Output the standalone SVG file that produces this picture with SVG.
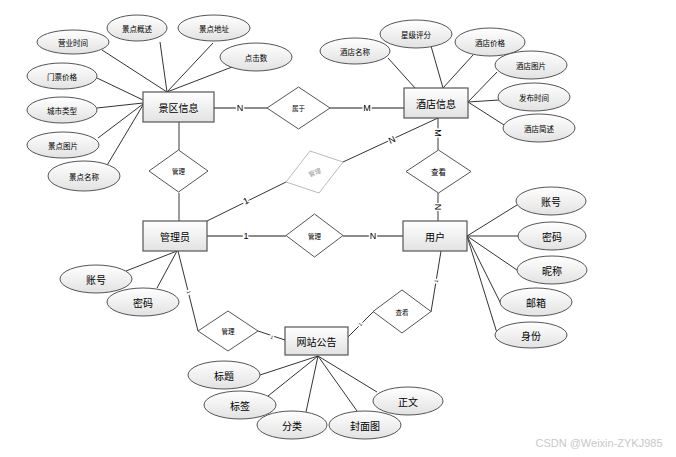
<svg xmlns="http://www.w3.org/2000/svg" width="676" height="457" viewBox="0 0 676 457">
<defs>
<linearGradient id="g" x1="0" y1="0" x2="0" y2="1"><stop offset="0" stop-color="#ffffff"/><stop offset="1" stop-color="#e2e2e2"/></linearGradient>
<style>
.ent rect{fill:url(#g);stroke:#555;stroke-width:1.2}
.att ellipse{fill:url(#g);stroke:#555;stroke-width:1}
.rel polygon{fill:#fff;stroke:#555;stroke-width:1}
text{font-family:"Noto Sans CJK SC","Liberation Sans",sans-serif;text-anchor:middle;dominant-baseline:central;fill:#000}
.s{font-size:7.5px}
.m{font-size:10px}
.e{font-size:10px}
.d{font-size:6.5px}
.c line,.c polyline{stroke:#333;stroke-width:1;fill:none}
.c .k{stroke:#666;stroke-width:1.3}
.lbl{font-family:"Liberation Sans",sans-serif;font-size:9px;stroke:#fff;stroke-width:3;paint-order:stroke}
.t{font-size:5px}
</style>
</defs>
<rect width="676" height="457" fill="#fff"/>
<g id="connectors" class="c">
<line x1="102" y1="50" x2="167" y2="92"/>
<line x1="160" y1="42" x2="167" y2="92"/>
<line x1="213" y1="43" x2="167" y2="92"/>
<line x1="232" y1="67" x2="167" y2="92"/>
<line x1="97" y1="78" x2="143" y2="100"/>
<line x1="97" y1="108" x2="143" y2="103"/>
<line x1="98" y1="138" x2="143" y2="104"/>
<line x1="106" y1="167" x2="143" y2="105"/>
<line x1="388" y1="58" x2="415" y2="88"/>
<line x1="431" y1="46" x2="443" y2="88"/>
<line x1="473" y1="55" x2="443" y2="88"/>
<line x1="497" y1="72" x2="468" y2="102"/>
<line x1="499" y1="100" x2="468" y2="102"/>
<line x1="504" y1="125" x2="468" y2="102"/>
<line x1="467" y1="236" x2="517" y2="205"/>
<line x1="467" y1="236" x2="518" y2="236"/>
<line x1="467" y1="236" x2="517" y2="270"/>
<line x1="467" y1="236" x2="502" y2="306"/>
<line x1="467" y1="236" x2="497" y2="333"/>
<line x1="177" y1="251" x2="126" y2="271"/>
<line x1="177" y1="251" x2="157" y2="288"/>
<line x1="318" y1="356" x2="260" y2="375"/>
<line x1="318" y1="356" x2="268" y2="396"/>
<line x1="318" y1="356" x2="306" y2="412"/>
<line x1="318" y1="356" x2="357" y2="411"/>
<line x1="318" y1="356" x2="377" y2="392"/>
<line class="k" x1="214" y1="108" x2="267" y2="108"/>
<line class="k" x1="330" y1="108" x2="404" y2="108"/>
<line class="k" x1="179" y1="122" x2="179" y2="150"/>
<line class="k" x1="179" y1="193" x2="179" y2="221"/>
<line class="k" x1="438" y1="118" x2="438" y2="150"/>
<line class="k" x1="438" y1="193" x2="438" y2="221"/>
<line class="k" x1="207" y1="236" x2="286" y2="236"/>
<line class="k" x1="343" y1="236" x2="403" y2="236"/>
<line x1="438" y1="118" x2="343" y2="162"/>
<line x1="207" y1="221" x2="286" y2="182"/>
<polyline points="178,251 198,331"/>
<line x1="258" y1="331" x2="285" y2="340"/>
<line x1="348" y1="337" x2="373" y2="312"/>
<polyline points="431,312 441,251"/>
<text class="lbl" x="240" y="108">N</text>
<text class="lbl" x="367" y="108">M</text>
<text class="lbl" transform="translate(438,133) rotate(90)">M</text>
<text class="lbl" transform="translate(438,207) rotate(90)">N</text>
<text class="lbl" transform="translate(392,140) rotate(-25)">N</text>
<text class="lbl" transform="translate(246,201) rotate(-26)">1</text>
<text class="lbl" x="246" y="236">1</text>
<text class="lbl" x="373" y="236">N</text>
<text class="lbl t" transform="translate(189,292) rotate(76)">1</text>
<text class="lbl t" transform="translate(272,337) rotate(18)">1</text>
<text class="lbl t" transform="translate(360,324) rotate(-45)">1</text>
<text class="lbl t" transform="translate(436,281) rotate(-81)">1</text>
</g>
<g id="e-scenic" class="ent"><rect x="143" y="92" width="71" height="30"/><text class="e" x="178.5" y="107">景区信息</text></g>
<g id="e-hotel" class="ent"><rect x="404" y="88" width="64" height="30"/><text class="e" x="436" y="103">酒店信息</text></g>
<g id="e-admin" class="ent"><rect x="143" y="221" width="64" height="30"/><text class="e" x="175" y="236">管理员</text></g>
<g id="e-user" class="ent"><rect x="403" y="221" width="64" height="30"/><text class="e" x="435" y="236">用户</text></g>
<g id="e-notice" class="ent"><rect x="285" y="327" width="63" height="28"/><text class="e" x="316.5" y="341">网站公告</text></g>
<g id="r-belong" class="rel"><polygon points="298.5,87 330,108 298.5,129 267,108"/><text class="d" x="298.5" y="108">属于</text></g>
<g id="r-manage1" class="rel"><polygon points="178.5,150 208,171 178.5,192 149,171"/><text class="d" x="178.5" y="171">管理</text></g>
<g id="r-view1" class="rel"><polygon points="438.5,150 471,171.5 438.5,193 406,171.5"/><text class="d" x="438.5" y="171.5" style="font-size:7.5px">查看</text></g>
<g id="r-manage2" class="rel"><polygon points="310,151 343,162 319,193 286,182" style="stroke:#bbb"/><text class="d" transform="translate(314.5,172) rotate(-20)" style="fill:#999">管理</text></g>
<g id="r-manage3" class="rel"><polygon points="314.5,214 343,235.5 314.5,257 286,235.5"/><text class="d" x="314.5" y="235.5">管理</text></g>
<g id="r-manage4" class="rel"><polygon points="228,311 258,331 228,351 198,331"/><text class="d" x="228" y="331">管理</text></g>
<g id="r-view2" class="rel"><polygon points="402,290 431,311.5 402,333 373,311.5"/><text class="d" x="402" y="311.5">查看</text></g>
<g id="a-yysj" class="att"><ellipse cx="73" cy="42" rx="36" ry="12"/><text class="s" x="73" y="42">营业时间</text></g>
<g id="a-jdgs" class="att"><ellipse cx="137" cy="28" rx="30" ry="13"/><text class="s" x="137" y="28">景点概述</text></g>
<g id="a-jddz" class="att"><ellipse cx="214" cy="28" rx="36" ry="13"/><text class="s" x="214" y="28">景点地址</text></g>
<g id="a-djs" class="att"><ellipse cx="256" cy="57" rx="36" ry="14"/><text class="s" x="256" y="57">点击数</text></g>
<g id="a-mpjg" class="att"><ellipse cx="62" cy="76" rx="35" ry="13"/><text class="s" x="62" y="76">门票价格</text></g>
<g id="a-cslx" class="att"><ellipse cx="62" cy="110" rx="35" ry="13"/><text class="s" x="62" y="110">城市类型</text></g>
<g id="a-jdtp" class="att"><ellipse cx="63" cy="145" rx="36" ry="13"/><text class="s" x="63" y="145">景点图片</text></g>
<g id="a-jdmc" class="att"><ellipse cx="84" cy="176" rx="36" ry="15"/><text class="s" x="84" y="176">景点名称</text></g>
<g id="a-jdmc2" class="att"><ellipse cx="355" cy="51" rx="35" ry="13"/><text class="s" x="355" y="51">酒店名称</text></g>
<g id="a-xjpf" class="att"><ellipse cx="416" cy="34" rx="36" ry="14"/><text class="s" x="416" y="34">星级评分</text></g>
<g id="a-jdjg" class="att"><ellipse cx="490" cy="42" rx="35" ry="14"/><text class="s" x="490" y="42">酒店价格</text></g>
<g id="a-jdtp2" class="att"><ellipse cx="531" cy="65" rx="36" ry="14"/><text class="s" x="531" y="65">酒店图片</text></g>
<g id="a-fbsj" class="att"><ellipse cx="534" cy="97" rx="36" ry="14"/><text class="s" x="534" y="97">发布时间</text></g>
<g id="a-jdjs" class="att"><ellipse cx="539" cy="128" rx="36" ry="14"/><text class="s" x="539" y="128">酒店简述</text></g>
<g id="a-u-zh" class="att"><ellipse cx="551" cy="201" rx="35" ry="14"/><text class="m" x="551" y="201">账号</text></g>
<g id="a-u-mm" class="att"><ellipse cx="552" cy="236" rx="34" ry="14"/><text class="m" x="552" y="236">密码</text></g>
<g id="a-u-nc" class="att"><ellipse cx="552" cy="270" rx="35" ry="14"/><text class="m" x="552" y="270">昵称</text></g>
<g id="a-u-yx" class="att"><ellipse cx="536" cy="302" rx="36" ry="14"/><text class="m" x="536" y="302">邮箱</text></g>
<g id="a-u-sf" class="att"><ellipse cx="531" cy="335" rx="36" ry="13"/><text class="m" x="531" y="335">身份</text></g>
<g id="a-a-zh" class="att"><ellipse cx="96" cy="279" rx="36" ry="14"/><text class="m" x="96" y="279">账号</text></g>
<g id="a-a-mm" class="att"><ellipse cx="143" cy="302" rx="36" ry="14"/><text class="m" x="143" y="302">密码</text></g>
<g id="a-bt" class="att"><ellipse cx="224" cy="375" rx="36" ry="14"/><text class="m" x="224" y="375">标题</text></g>
<g id="a-bq" class="att"><ellipse cx="240" cy="405" rx="36" ry="14"/><text class="m" x="240" y="405">标签</text></g>
<g id="a-fl" class="att"><ellipse cx="292" cy="425" rx="35" ry="14"/><text class="m" x="292" y="425">分类</text></g>
<g id="a-fmt" class="att"><ellipse cx="365" cy="425" rx="36" ry="14"/><text class="m" x="365" y="425">封面图</text></g>
<g id="a-zw" class="att"><ellipse cx="408" cy="401" rx="35" ry="14"/><text class="m" x="408" y="401">正文</text></g>
<text x="599" y="443" style="font-family:'Liberation Sans',sans-serif;font-size:11px;fill:#c8c8c8">CSDN @Weixin-ZYKJ985</text>
</svg>
